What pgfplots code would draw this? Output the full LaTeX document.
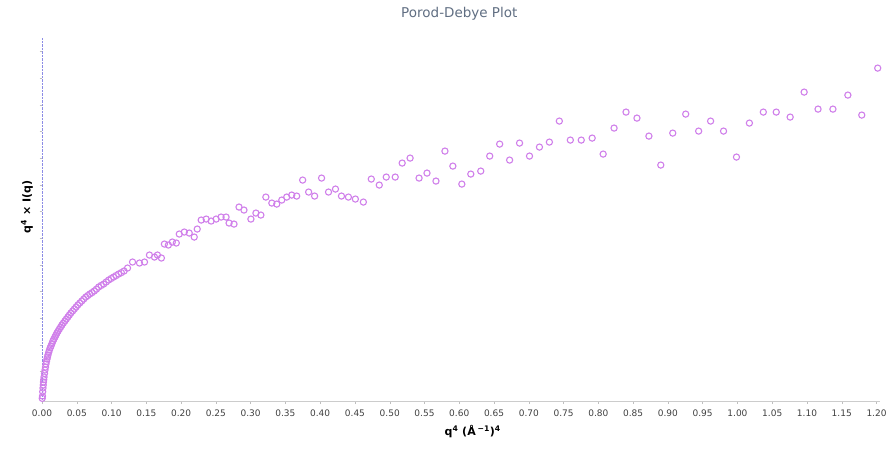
\documentclass[border=0pt]{standalone}
\usepackage{pgfplots}
\pgfplotsset{compat=1.18}
\usepackage{fontspec}
\setmainfont{DejaVu Sans}
\definecolor{mk}{RGB}{208,128,234}
\definecolor{titlec}{RGB}{96,110,130}
\definecolor{yax}{RGB}{140,140,230}
\begin{document}
\begin{tikzpicture}
\useasboundingbox (0,0) rectangle (889pt,448pt);
\begin{axis}[
  at={(42pt,47pt)}, anchor=south west,
  scale only axis, width=838pt, height=363pt,
  xmin=0, xmax=1.205, ymin=0, ymax=13.6,
  axis x line*=bottom, axis y line*=left,
  x axis line style={draw=black!20, -},
  y axis line style={draw=yax, densely dotted, -},
  xtick={0,0.05,...,1.21},
  ytick={0.1,1.1,...,13.2},
  yticklabels={},
  tick align=outside, major tick length=2.5pt,
  every tick/.style={draw=black!25},
  /pgf/number format/assume math mode=true,
  xticklabel style={font=\fontsize{9}{11}\selectfont, text=black!75, /pgf/number format/.cd, fixed, fixed zerofill, precision=2},
  xticklabel shift=3pt,
  title={Porod-Debye Plot},
  title style={font=\fontsize{13.5}{15}\selectfont, text=titlec, at={(axis description cs:0.498,1)}, anchor=center, yshift=18pt},
  xlabel={q\textsuperscript{4} (Å\,\textsuperscript{−1})\textsuperscript{4}},
  xlabel style={font=\bfseries\fontsize{11}{12}\selectfont, at={(axis description cs:0.514,-0.083)}, anchor=center},
  ylabel={q\textsuperscript{4} × I(q)},
  ylabel style={font=\bfseries\fontsize{11}{12}\selectfont, at={(axis description cs:-0.018,0.534)}, anchor=center, rotate=0},
  clip=false,
]
\addplot[only marks, mark=o, mark size=3.1pt, mark options={draw=mk, line width=1.1pt}] table {
x y
0.0003 0.10
0.0007 0.187
0.0010 0.35
0.0014 0.487
0.0018 0.60
0.0021 0.712
0.0025 0.80
0.0029 0.899
0.0036 1.03
0.0043 1.161
0.0050 1.27
0.0057 1.386
0.0064 1.48
0.0072 1.573
0.0079 1.65
0.0086 1.723
0.0096 1.82
0.0107 1.910
0.0118 1.99
0.0129 2.060
0.0143 2.15
0.0157 2.247
0.0171 2.32
0.0186 2.397
0.0200 2.47
0.0215 2.547
0.0232 2.62
0.0250 2.697
0.0268 2.77
0.0286 2.846
0.0307 2.92
0.0329 2.996
0.0350 3.07
0.0372 3.146
0.0393 3.22
0.0415 3.296
0.0440 3.37
0.0465 3.446
0.0490 3.52
0.0515 3.596
0.0543 3.67
0.0572 3.745
0.0600 3.82
0.0629 3.895
0.0658 3.95
0.0687 4.007
0.0719 4.06
0.0751 4.120
0.0783 4.19
0.0815 4.270
0.0851 4.33
0.0887 4.382
0.0923 4.46
0.0959 4.532
0.0995 4.59
0.1030 4.644
0.1066 4.70
0.1102 4.757
0.1141 4.81
0.1180 4.869
0.1230 4.981
0.1302 5.206
0.1402 5.169
0.1474 5.206
0.1545 5.468
0.1617 5.393
0.1660 5.468
0.1717 5.356
0.1760 5.880
0.1817 5.843
0.1874 5.955
0.1931 5.918
0.1974 6.255
0.2046 6.330
0.2117 6.292
0.2189 6.142
0.2232 6.442
0.2289 6.779
0.2361 6.816
0.2432 6.742
0.2504 6.816
0.2575 6.891
0.2647 6.891
0.2690 6.667
0.2761 6.629
0.2833 7.266
0.2904 7.154
0.3004 6.816
0.3076 7.041
0.3147 6.966
0.3219 7.640
0.3305 7.416
0.3376 7.378
0.3448 7.528
0.3519 7.640
0.3591 7.715
0.3662 7.678
0.3748 8.277
0.3834 7.828
0.3920 7.678
0.4020 8.352
0.4120 7.828
0.4220 7.940
0.4306 7.678
0.4406 7.640
0.4506 7.566
0.4621 7.453
0.4735 8.315
0.4850 8.090
0.4950 8.390
0.5079 8.390
0.5179 8.914
0.5293 9.101
0.5422 8.352
0.5536 8.539
0.5665 8.240
0.5794 9.363
0.5908 8.801
0.6037 8.127
0.6166 8.502
0.6309 8.614
0.6438 9.176
0.6581 9.625
0.6724 9.026
0.6867 9.663
0.7010 9.176
0.7153 9.513
0.7296 9.700
0.7439 10.487
0.7597 9.775
0.7754 9.775
0.7911 9.850
0.8069 9.251
0.8226 10.225
0.8398 10.824
0.8555 10.599
0.8727 9.925
0.8898 8.839
0.9070 10.037
0.9256 10.749
0.9442 10.112
0.9614 10.487
0.9800 10.112
0.9986 9.139
1.0172 10.412
1.0372 10.824
1.0558 10.824
1.0758 10.637
1.0959 11.573
1.1159 10.936
1.1373 10.936
1.1588 11.461
1.1788 10.712
1.2017 12.472
};
\end{axis}
\end{tikzpicture}
\end{document}
